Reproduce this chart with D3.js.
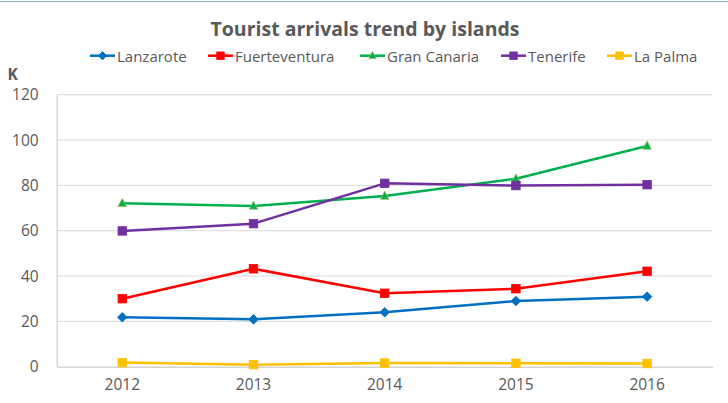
<!DOCTYPE html>
<html><head><meta charset="utf-8">
<script src="https://cdn.jsdelivr.net/npm/d3@7/dist/d3.min.js"></script>
<style>body{margin:0;background:#fff}svg{display:block}</style>
</head><body><svg id="c" width="728" height="403"></svg>
<script>
const years = ["2012","2013","2014","2015","2016"];
const yTicks = [0,20,40,60,80,100,120];
const seriesNames = ["Lanzarote","Fuerteventura","Gran Canaria","Tenerife","La Palma"];
const lanzarote = [21.8,20.9,24.0,29.0,30.9];
const fuerteventura = [30.0,43.2,32.4,34.4,42.1];
const granCanaria = [72.1,70.9,75.3,82.9,97.4];
const tenerife = [59.9,63.1,80.9,79.9,80.3];
const laPalma = [1.8,0.9,1.6,1.5,1.4];
const colors = ["#0070C0","#FF0000","#00B050","#7030A0","#FFC000"];
const markers = ["diamond","square","triangle","square","square"];
const values = [lanzarote,fuerteventura,granCanaria,tenerife,laPalma];

const svg = d3.select("#c");
const font = "'Open Sans', sans-serif";
const txt = "#595959";

svg.append("line").attr("x1",0).attr("x2",728).attr("y1",1.5).attr("y2",1.5)
  .attr("stroke","#8eb4e3").attr("stroke-width",1.2);

const x = d3.scaleBand().domain(years).range([56.7,712.7]);
const y = d3.scaleLinear().domain([0,120]).range([366.7,94.7]);

// gridlines
svg.append("g").selectAll("line").data(yTicks.filter(d=>d>0)).join("line")
  .attr("x1",56.7).attr("x2",712.7).attr("y1",d=>y(d)).attr("y2",d=>y(d))
  .attr("stroke","#d9d9d9").attr("stroke-width",1);

// axes
const ya = svg.append("g").attr("transform","translate(56.7,0)")
  .call(d3.axisLeft(y).tickValues(yTicks).tickSize(0).tickPadding(18));
ya.select(".domain").attr("stroke","#bfbfbf");
ya.selectAll("text").attr("font-family",font).attr("font-size",15.5).attr("fill",txt);

const xa = svg.append("g").attr("transform","translate(0,366.7)")
  .call(d3.axisBottom(x).tickSize(0).tickPadding(12));
xa.select(".domain").attr("stroke","#bfbfbf");
xa.selectAll("text").attr("font-family",font).attr("font-size",15.5).attr("fill",txt);

svg.append("text").attr("x",7.5).attr("y",80).text("K")
  .attr("font-family",font).attr("font-weight","bold").attr("font-size",15.5).attr("fill",txt);

svg.append("text").attr("x",365).attr("y",36).attr("text-anchor","middle")
  .text("Tourist arrivals trend by islands")
  .attr("font-family",font).attr("font-weight","bold").attr("font-size",19.5).attr("fill",txt);

function marker(g, type, color, cx, cy, s) {
  if (type === "diamond") {
    g.append("path").attr("d",`M${cx},${cy-s*0.6}L${cx+s*0.6},${cy}L${cx},${cy+s*0.6}L${cx-s*0.6},${cy}Z`)
      .attr("fill",color).attr("stroke",color).attr("stroke-width",0.8);
  } else if (type === "square") {
    g.append("rect").attr("x",cx-s/2).attr("y",cy-s/2).attr("width",s).attr("height",s)
      .attr("fill",color).attr("stroke",color).attr("stroke-width",0.8);
  } else {
    const h = s*0.95;
    g.append("path").attr("d",`M${cx},${cy-h*0.6}L${cx+s/2},${cy+h*0.4}L${cx-s/2},${cy+h*0.4}Z`)
      .attr("fill",color).attr("stroke","#9bbb59").attr("stroke-width",0.8);
  }
}

const line = d3.line().x((d,i)=>x(years[i])+x.bandwidth()/2).y(d=>y(d));
const sizes = {diamond:8, square:8.5, triangle:8.5};
values.forEach((vals,k)=>{
  const g = svg.append("g");
  g.append("path").attr("d",line(vals)).attr("fill","none")
    .attr("stroke",colors[k]).attr("stroke-width",2.5).attr("stroke-linejoin","round");
  vals.forEach((v,i)=>marker(g, markers[k], colors[k], x(years[i])+x.bandwidth()/2, y(v), sizes[markers[k]]));
});

// legend
const legX = [90,208,360,501,607];
seriesNames.forEach((n,k)=>{
  const g = svg.append("g");
  g.append("line").attr("x1",legX[k]).attr("x2",legX[k]+25).attr("y1",55.7).attr("y2",55.7)
    .attr("stroke",colors[k]).attr("stroke-width",2.5);
  marker(g, markers[k], colors[k], legX[k]+12.5, 55.7, markers[k]==="diamond"?7:7.5);
  g.append("text").attr("x",legX[k]+27).attr("y",61.5).text(n)
    .attr("font-family",font).attr("font-size",15).attr("fill",txt);
});
</script></body></html>
